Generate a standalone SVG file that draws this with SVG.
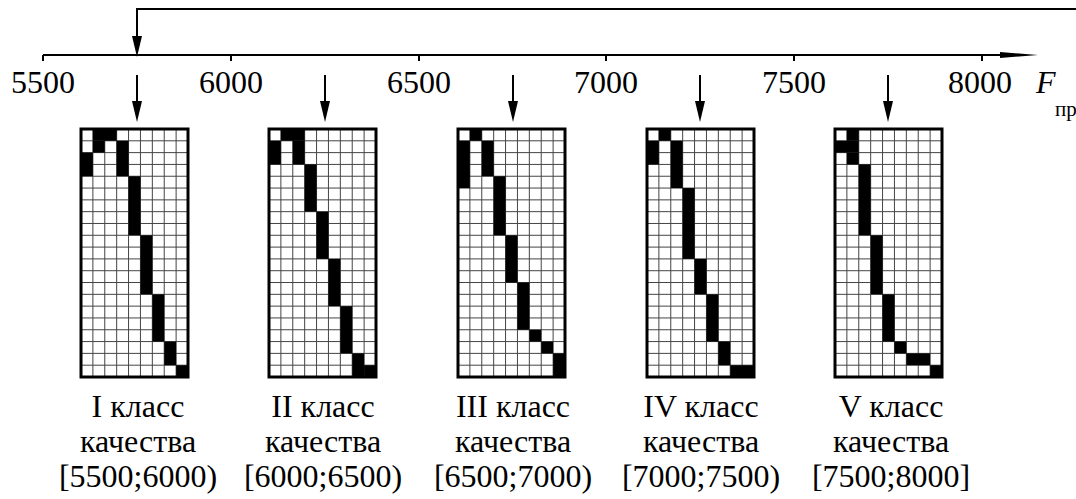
<svg xmlns="http://www.w3.org/2000/svg" width="1076" height="499" viewBox="0 0 1076 499">
  <style>
    text { font-family: 'Liberation Serif', 'Times New Roman', serif; font-size: 32px; fill: #000; }
    .sub { font-size: 21px; }
    .ln { fill: none; stroke: #000; stroke-width: 2; }
    .mesh { fill: none; stroke: #444; stroke-width: 1; }
    .frame { fill: none; stroke: #000; stroke-width: 3; }
    .cell { fill: #000; }
  </style>
  <defs>
    <marker id="arr" markerUnits="userSpaceOnUse" markerWidth="22" markerHeight="12" refX="0" refY="5" orient="auto" viewBox="0 0 22 10">
      <path d="M0,0 L21,5 L0,10 Z" fill="#000"/>
    </marker>
    <marker id="axarr" markerUnits="userSpaceOnUse" markerWidth="40" markerHeight="10" refX="0" refY="4" orient="auto" viewBox="0 0 40 8">
      <path d="M0,1 L38,4 L0,7 Z" fill="#000"/>
    </marker>
  </defs>

  <!-- axis with ticks and values -->
  <g id="axis">
    <g text-anchor="middle">
      <text x="43" y="93" style="font-family:'Liberation Serif'">5500</text>
      <text x="231" y="93" style="font-family:'Liberation Serif'">6000</text>
      <text x="419" y="93" style="font-family:'Liberation Serif'">6500</text>
      <text x="606" y="93" style="font-family:'Liberation Serif'">7000</text>
      <text x="794" y="93" style="font-family:'Liberation Serif'">7500</text>
      <text x="980" y="93" style="font-family:'Liberation Serif'">8000</text>
    </g>
    <text x="1036" y="93" style="font-family:'Liberation Serif';font-style:italic">F</text>
    <text class="sub" x="1055" y="116" style="font-family:'Liberation Serif'">пр</text>
    <path class="ln" d="M43 55H1000" marker-end="url(#axarr)"/>
    <path class="ln" d="M43 55V61M231 55V61M419 55V61M606 55V61M794 55V61M982 55V61"/>
  </g>

  <!-- connectors -->
  <g id="connectors">
    <path class="ln" d="M1076 9H137V36" stroke-width="2.5" marker-end="url(#arr)"/>
    <path class="ln" d="M137 75V101" marker-end="url(#arr)"/>
    <path class="ln" d="M325 75V101" marker-end="url(#arr)"/>
    <path class="ln" d="M513 75V101" marker-end="url(#arr)"/>
    <path class="ln" d="M700 75V101" marker-end="url(#arr)"/>
    <path class="ln" d="M888 75V101" marker-end="url(#arr)"/>
  </g>

  <!-- class labels -->
  <g id="labels" text-anchor="middle">
    <text x="138" y="417" style="font-family:'Liberation Serif'">I класс</text>
    <text x="138" y="452" style="font-family:'Liberation Serif'">качества</text>
    <text x="138" y="487" style="font-family:'Liberation Serif'">[5500;6000)</text>
    <text x="323" y="417" style="font-family:'Liberation Serif'">II класс</text>
    <text x="323" y="452" style="font-family:'Liberation Serif'">качества</text>
    <text x="323" y="487" style="font-family:'Liberation Serif'">[6000;6500)</text>
    <text x="513" y="417" style="font-family:'Liberation Serif'">III класс</text>
    <text x="513" y="452" style="font-family:'Liberation Serif'">качества</text>
    <text x="513" y="487" style="font-family:'Liberation Serif'">[6500;7000)</text>
    <text x="701" y="417" style="font-family:'Liberation Serif'">IV класс</text>
    <text x="701" y="452" style="font-family:'Liberation Serif'">качества</text>
    <text x="701" y="487" style="font-family:'Liberation Serif'">[7000;7500)</text>
    <text x="891" y="417" style="font-family:'Liberation Serif'">V класс</text>
    <text x="891" y="452" style="font-family:'Liberation Serif'">качества</text>
    <text x="891" y="487" style="font-family:'Liberation Serif'">[7500;8000]</text>
  </g>

  <!-- quality-class grids: 9 x 21 cells, 107 x 248 each -->
  <g id="class1">
    <rect x="81" y="129" width="107" height="248" fill="#fff"/>
    <path class="mesh" transform="translate(81,129)" d="M11.89 0V248M23.78 0V248M35.67 0V248M47.56 0V248M59.44 0V248M71.33 0V248M83.22 0V248M95.11 0V248M0 11.81H107M0 23.62H107M0 35.43H107M0 47.24H107M0 59.05H107M0 70.86H107M0 82.67H107M0 94.48H107M0 106.29H107M0 118.1H107M0 129.9H107M0 141.71H107M0 153.52H107M0 165.33H107M0 177.14H107M0 188.95H107M0 200.76H107M0 212.57H107M0 224.38H107M0 236.19H107"/>
    <g class="cell" transform="translate(81,129) scale(11.889,11.81)">
      <rect x="1" y="0" width="2" height="1"/>
      <rect x="1" y="1" width="1" height="1"/>
      <rect x="3" y="1" width="1" height="3"/>
      <rect x="0" y="2" width="1" height="2"/>
      <rect x="4" y="4" width="1" height="5"/>
      <rect x="5" y="9" width="1" height="5"/>
      <rect x="6" y="14" width="1" height="4"/>
      <rect x="7" y="18" width="1" height="2"/>
      <rect x="8" y="20" width="1" height="1"/>
    </g>
    <rect class="frame" x="81" y="129" width="107" height="248"/>
  </g>

  <g id="class2">
    <rect x="269" y="129" width="107" height="248" fill="#fff"/>
    <path class="mesh" transform="translate(269,129)" d="M11.89 0V248M23.78 0V248M35.67 0V248M47.56 0V248M59.44 0V248M71.33 0V248M83.22 0V248M95.11 0V248M0 11.81H107M0 23.62H107M0 35.43H107M0 47.24H107M0 59.05H107M0 70.86H107M0 82.67H107M0 94.48H107M0 106.29H107M0 118.1H107M0 129.9H107M0 141.71H107M0 153.52H107M0 165.33H107M0 177.14H107M0 188.95H107M0 200.76H107M0 212.57H107M0 224.38H107M0 236.19H107"/>
    <g class="cell" transform="translate(269,129) scale(11.889,11.81)">
      <rect x="1" y="0" width="2" height="1"/>
      <rect x="0" y="1" width="1" height="2"/>
      <rect x="2" y="1" width="1" height="2"/>
      <rect x="3" y="3" width="1" height="4"/>
      <rect x="4" y="7" width="1" height="4"/>
      <rect x="5" y="11" width="1" height="4"/>
      <rect x="6" y="15" width="1" height="4"/>
      <rect x="7" y="19" width="1" height="2"/>
      <rect x="8" y="20" width="1" height="1"/>
    </g>
    <rect class="frame" x="269" y="129" width="107" height="248"/>
  </g>

  <g id="class3">
    <rect x="458" y="129" width="107" height="248" fill="#fff"/>
    <path class="mesh" transform="translate(458,129)" d="M11.89 0V248M23.78 0V248M35.67 0V248M47.56 0V248M59.44 0V248M71.33 0V248M83.22 0V248M95.11 0V248M0 11.81H107M0 23.62H107M0 35.43H107M0 47.24H107M0 59.05H107M0 70.86H107M0 82.67H107M0 94.48H107M0 106.29H107M0 118.1H107M0 129.9H107M0 141.71H107M0 153.52H107M0 165.33H107M0 177.14H107M0 188.95H107M0 200.76H107M0 212.57H107M0 224.38H107M0 236.19H107"/>
    <g class="cell" transform="translate(458,129) scale(11.889,11.81)">
      <rect x="1" y="0" width="1" height="1"/>
      <rect x="0" y="1" width="1" height="4"/>
      <rect x="2" y="1" width="1" height="3"/>
      <rect x="3" y="4" width="1" height="5"/>
      <rect x="4" y="9" width="1" height="4"/>
      <rect x="5" y="13" width="1" height="4"/>
      <rect x="6" y="17" width="1" height="1"/>
      <rect x="7" y="18" width="1" height="1"/>
      <rect x="8" y="19" width="1" height="2"/>
    </g>
    <rect class="frame" x="458" y="129" width="107" height="248"/>
  </g>

  <g id="class4">
    <rect x="647" y="129" width="107" height="248" fill="#fff"/>
    <path class="mesh" transform="translate(647,129)" d="M11.89 0V248M23.78 0V248M35.67 0V248M47.56 0V248M59.44 0V248M71.33 0V248M83.22 0V248M95.11 0V248M0 11.81H107M0 23.62H107M0 35.43H107M0 47.24H107M0 59.05H107M0 70.86H107M0 82.67H107M0 94.48H107M0 106.29H107M0 118.1H107M0 129.9H107M0 141.71H107M0 153.52H107M0 165.33H107M0 177.14H107M0 188.95H107M0 200.76H107M0 212.57H107M0 224.38H107M0 236.19H107"/>
    <g class="cell" transform="translate(647,129) scale(11.889,11.81)">
      <rect x="1" y="0" width="1" height="1"/>
      <rect x="0" y="1" width="1" height="2"/>
      <rect x="2" y="1" width="1" height="4"/>
      <rect x="3" y="5" width="1" height="6"/>
      <rect x="4" y="11" width="1" height="3"/>
      <rect x="5" y="14" width="1" height="4"/>
      <rect x="6" y="18" width="1" height="2"/>
      <rect x="7" y="20" width="2" height="1"/>
    </g>
    <rect class="frame" x="647" y="129" width="107" height="248"/>
  </g>

  <g id="class5">
    <rect x="835" y="129" width="107" height="248" fill="#fff"/>
    <path class="mesh" transform="translate(835,129)" d="M11.89 0V248M23.78 0V248M35.67 0V248M47.56 0V248M59.44 0V248M71.33 0V248M83.22 0V248M95.11 0V248M0 11.81H107M0 23.62H107M0 35.43H107M0 47.24H107M0 59.05H107M0 70.86H107M0 82.67H107M0 94.48H107M0 106.29H107M0 118.1H107M0 129.9H107M0 141.71H107M0 153.52H107M0 165.33H107M0 177.14H107M0 188.95H107M0 200.76H107M0 212.57H107M0 224.38H107M0 236.19H107"/>
    <g class="cell" transform="translate(835,129) scale(11.889,11.81)">
      <rect x="1" y="0" width="1" height="1"/>
      <rect x="0" y="1" width="2" height="1"/>
      <rect x="1" y="2" width="1" height="1"/>
      <rect x="2" y="3" width="1" height="6"/>
      <rect x="3" y="9" width="1" height="5"/>
      <rect x="4" y="14" width="1" height="4"/>
      <rect x="5" y="18" width="1" height="1"/>
      <rect x="6" y="19" width="2" height="1"/>
      <rect x="8" y="20" width="1" height="1"/>
    </g>
    <rect class="frame" x="835" y="129" width="107" height="248"/>
  </g>
</svg>
